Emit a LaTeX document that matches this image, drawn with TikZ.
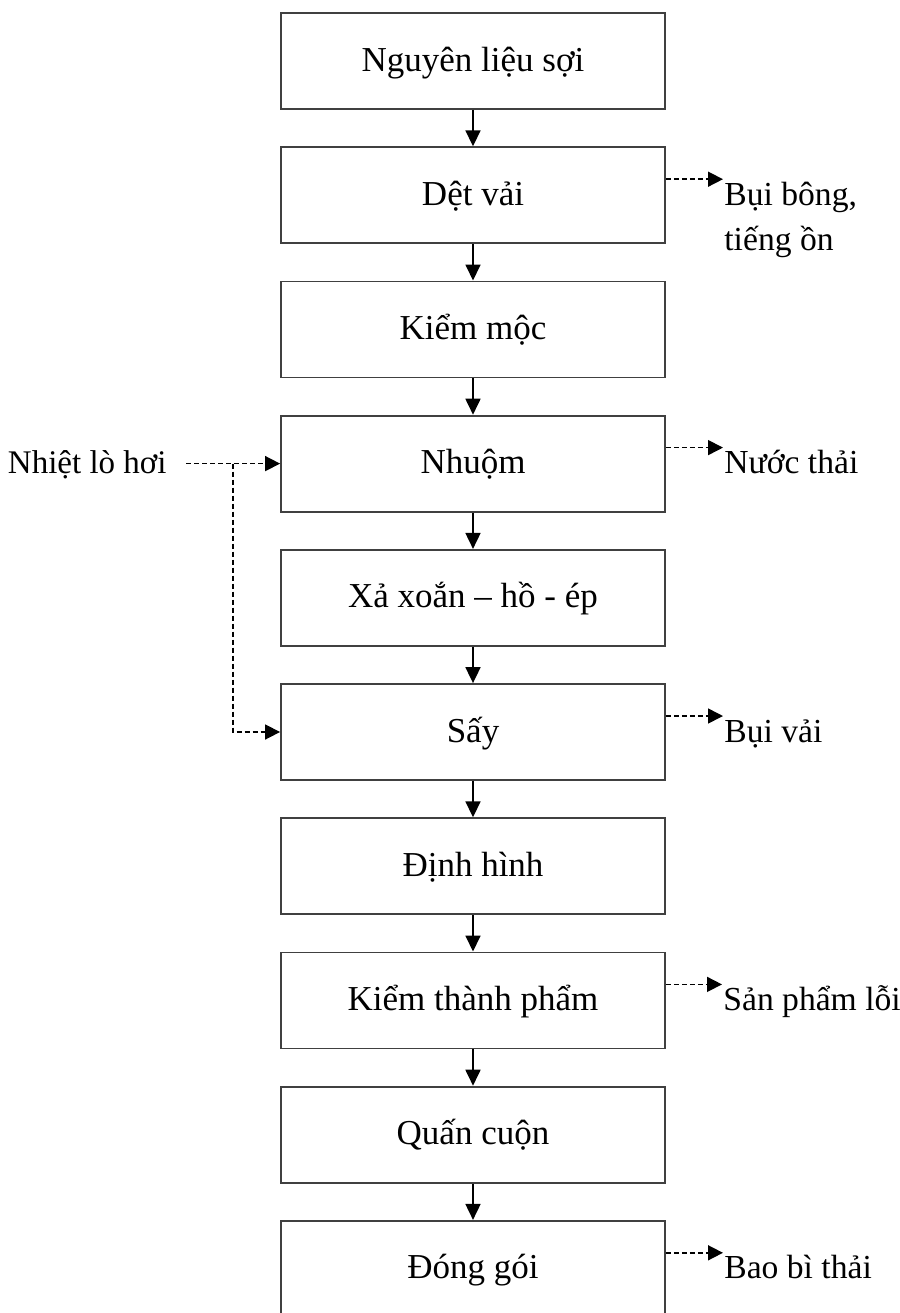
\documentclass[tikz,border=0pt]{standalone}
\usepackage{fontspec}
\setmainfont{Liberation Serif}
\usetikzlibrary{arrows.meta}
\begin{document}
\begin{tikzpicture}[x={(0.5pt,0)},y={(0,-0.5pt)},
  font=\fontsize{17.5}{22.5}\selectfont,
  box/.style={draw=black!75,line width=0.9pt,minimum width=192pt,minimum height=48pt,
    inner sep=0pt,text height=12pt,text depth=2pt},
  flow/.style={-{Triangle[length=8pt,width=7.5pt]},line width=0.9pt},
  dasharrow/.style={-{Triangle[length=7.5pt,width=7.5pt]},line width=0.8pt,dash pattern=on 2.5pt off 1.5pt},
  lbl/.style={inner xsep=0.5pt,inner ysep=0pt,anchor=base west,font=\fontsize{16.8}{22.5}\selectfont}]
\useasboundingbox (0,0) rectangle (900,1313);
\clip (0,0) rectangle (900,1313);
\fill[white] (0,0) rectangle (900,1313);
% boxes
\node[box] (b1) at (473,61.0) {Nguyên liệu sợi};
\node[box] (b2) at (473,195.2) {Dệt vải};
\node[box] (b3) at (473,329.4) {Kiểm mộc};
\node[box] (b4) at (473,463.6) {Nhuộm};
\node[box] (b5) at (473,597.8) {Xả xoắn – hồ - ép};
\node[box] (b6) at (473,732.0) {Sấy};
\node[box] (b7) at (473,866.2) {Định hình};
\node[box] (b8) at (473,1000.4) {Kiểm thành phẩm};
\node[box] (b9) at (473,1134.6) {Quấn cuộn};
\node[box] (b10) at (473,1268.8) {Đóng gói};
% main flow
\foreach \a/\b in {b1/b2,b2/b3,b3/b4,b4/b5,b5/b6,b6/b7,b7/b8,b8/b9,b9/b10}
  \draw[flow] (\a.south) -- (\b.north);
% right labels
\node[lbl] (l2) at (723,205.2) {\begin{tabular}[t]{@{}l@{}}Bụi bông,\\tiếng ồn\end{tabular}};
\node[lbl] (l4) at (723,473.6) {Nước thải};
\node[lbl] (l6) at (723,742.0) {Bụi vải};
\node[lbl] (l8) at (722,1010.4) {Sản phẩm lỗi};
\node[lbl] (l10) at (723,1278.8) {Bao bì thải};
\foreach \b/\l in {b2/l2,b4/l4,b6/l6,b8/l8,b10/l10}
  \draw[dasharrow] ([yshift=8pt]\b.east) -- ([yshift=8pt]\b.east -| \l.west);
% left input
\node[inner sep=0pt,text height=12pt,text depth=2pt,anchor=east,font=\fontsize{16.5}{22.5}\selectfont] (nh) at (167,463.6) {Nhiệt lò hơi};
\coordinate (j) at (233,463.6);
\draw[dasharrow] ([xshift=9.5pt]nh.east) -- (b4.west);
\draw[dasharrow] (j) |- (b6.west);
\end{tikzpicture}
\end{document}
